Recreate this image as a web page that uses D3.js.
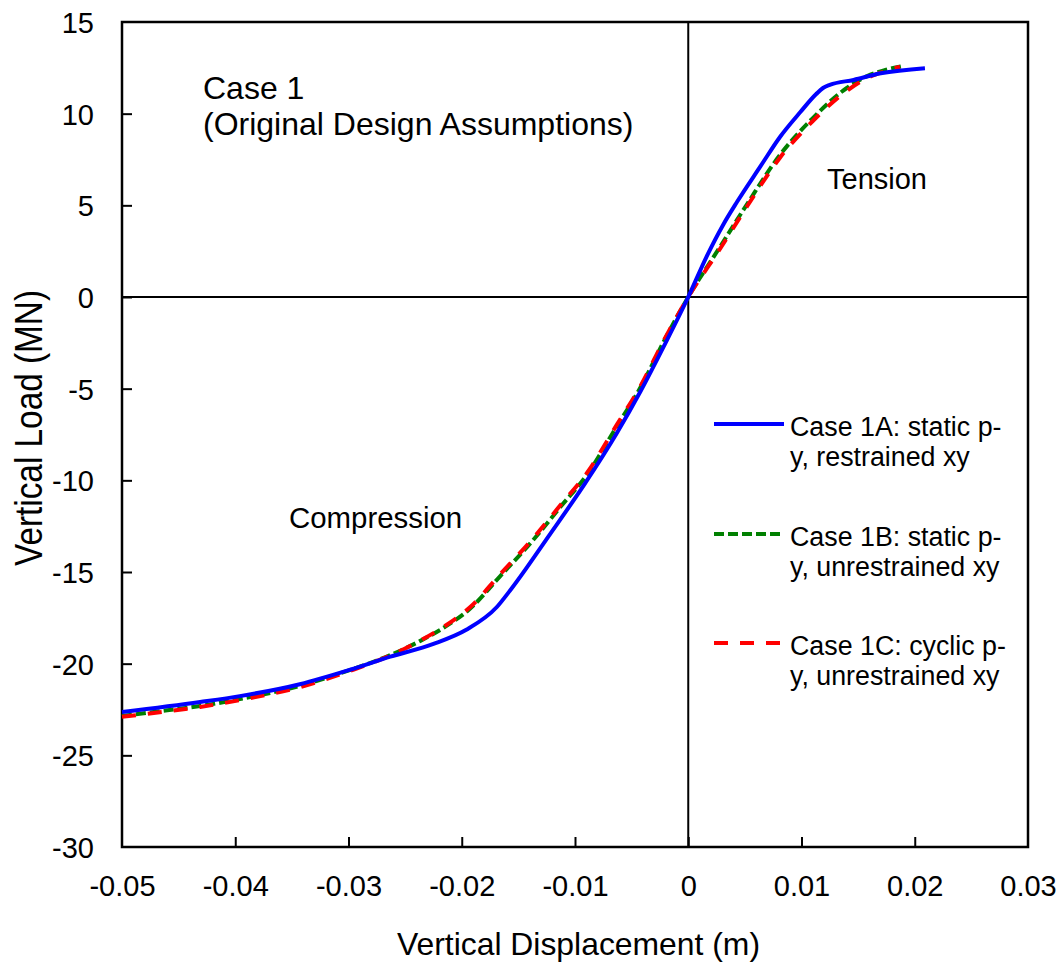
<!DOCTYPE html>
<html>
<head>
<meta charset="utf-8">
<script src="https://cdn.jsdelivr.net/npm/d3@7"></script>
<style>
  html, body { margin: 0; padding: 0; background: #fff; }
  svg text { font-family: "Liberation Sans", Arial, sans-serif; fill: #000; }
</style>
</head>
<body>
<svg id="chart" width="1061" height="963"></svg>
<script>
// ---- data ----
const xTicks = [-0.05, -0.04, -0.03, -0.02, -0.01, 0, 0.01, 0.02, 0.03];
const yTicks = [15, 10, 5, 0, -5, -10, -15, -20, -25, -30];

// Case 1A: static p-y, restrained xy
const dispA = [-0.0500, -0.0431, -0.0396, -0.0343, -0.0298, -0.0263, -0.0225, -0.0196, -0.0169, -0.0157, -0.0122, -0.0092, -0.0063, -0.0042, -0.0021, 0,
               0.0016, 0.0031, 0.0043, 0.0064, 0.0081, 0.0099, 0.0113, 0.0119, 0.0125, 0.0146, 0.0170, 0.0209];
const loadA = [-22.64, -22.09, -21.77, -21.12, -20.32, -19.62, -18.92, -18.15, -16.91, -15.98, -12.93, -10.25, -7.42, -5.13, -2.62, 0,
               2.18, 3.96, 5.18, 7.15, 8.73, 10.09, 11.07, 11.40, 11.57, 11.84, 12.20, 12.48];

// Case 1B: static p-y, unrestrained xy
const dispB = [-0.0500, -0.0460, -0.0431, -0.0387, -0.0343, -0.0299, -0.0263, -0.0237, -0.0215, -0.0193, -0.0166, -0.0137, -0.0113, -0.0089, -0.0063, -0.0042, -0.0021, 0,
               0.0028, 0.0052, 0.0081, 0.0110, 0.0140, 0.0158, 0.0174, 0.0190];
const loadB = [-22.85, -22.54, -22.31, -21.82, -21.22, -20.35, -19.53, -18.77, -18.00, -17.02, -15.22, -13.26, -11.46, -9.66, -7.04, -4.91, -2.35, 0,
               2.73, 5.07, 7.75, 9.76, 11.40, 12.05, 12.38, 12.60];

// Case 1C: cyclic p-y, unrestrained xy
const dispC = [-0.0500, -0.0460, -0.0431, -0.0387, -0.0343, -0.0299, -0.0263, -0.0237, -0.0215, -0.0193, -0.0166, -0.0137, -0.0113, -0.0089, -0.0063, -0.0042, -0.0021, 0,
               0.0028, 0.0052, 0.0081, 0.0110, 0.0140, 0.0158, 0.0174, 0.0187];
const loadC = [-22.90, -22.60, -22.36, -21.88, -21.28, -20.40, -19.55, -18.75, -17.95, -16.94, -15.12, -13.16, -11.36, -9.56, -6.96, -4.84, -2.30, 0,
               2.62, 4.95, 7.60, 9.60, 11.25, 11.95, 12.32, 12.56];

const seriesNames = ["Case 1A: static p-|y, restrained xy", "Case 1B: static p-|y, unrestrained xy", "Case 1C: cyclic p-|y, unrestrained xy"];

// ---- layout ----
const svg = d3.select("#chart");
const X0 = 122, X1 = 1028, Y0 = 22, Y1 = 847;
const x = d3.scaleLinear().domain([-0.05, 0.03]).range([X0, X1]);
const y = d3.scaleLinear().domain([-30, 15]).range([Y1, Y0]);

const fmtX = d => d === 0 ? "0" : d.toFixed(2);
const fmtY = d => String(d);

// axes
const gx = svg.append("g").attr("transform", `translate(0,${Y1})`)
  .call(d3.axisBottom(x).tickValues(xTicks).tickFormat(fmtX).tickSizeInner(-10).tickSizeOuter(0));
gx.select(".domain").remove();
gx.selectAll(".tick line").attr("stroke", "#000").attr("stroke-width", 2);
gx.selectAll(".tick text").attr("y", 49).attr("dy", 0).attr("font-size", 29).attr("fill", "#000")
  .attr("font-family", "Liberation Sans, Arial, sans-serif");

const gy = svg.append("g").attr("transform", `translate(${X0},0)`)
  .call(d3.axisLeft(y).tickValues(yTicks).tickFormat(fmtY).tickSizeInner(-10).tickSizeOuter(0));
gy.select(".domain").remove();
gy.selectAll(".tick line").attr("stroke", "#000").attr("stroke-width", 2);
gy.selectAll(".tick text").attr("x", -28).attr("dy", "0.36em").attr("font-size", 29).attr("fill", "#000")
  .attr("font-family", "Liberation Sans, Arial, sans-serif");
gx.selectAll(".tick").filter(d => d === -0.05 || d === 0.03).select("line").remove();
gy.selectAll(".tick").filter(d => d === 15 || d === -30).select("line").remove();

// zero lines
svg.append("line").attr("x1", x(0)).attr("x2", x(0)).attr("y1", Y0).attr("y2", Y1)
  .attr("stroke", "#000").attr("stroke-width", 2);
svg.append("line").attr("x1", X0).attr("x2", X1).attr("y1", y(0)).attr("y2", y(0))
  .attr("stroke", "#000").attr("stroke-width", 2);

// frame
svg.append("rect").attr("x", X0).attr("y", Y0).attr("width", X1 - X0).attr("height", Y1 - Y0)
  .attr("fill", "none").attr("stroke", "#000").attr("stroke-width", 2.5);

// series
const line = d3.line().x(d => x(d[0])).y(d => y(d[1])).curve(d3.curveMonotoneX);
const zip = (a, b) => a.map((v, i) => [v, b[i]]);
const series = [
  { pts: zip(dispB, loadB), color: "#008000", dash: "10,4" },
  { pts: zip(dispC, loadC), color: "#FF0000", dash: "14,12" },
  { pts: zip(dispA, loadA), color: "#0000FF", dash: null }
];
series.forEach(s => {
  const p = svg.append("path").datum(s.pts).attr("d", line)
    .attr("fill", "none").attr("stroke", s.color).attr("stroke-width", 4)
    .attr("stroke-linejoin", "round");
  if (s.dash) p.attr("stroke-dasharray", s.dash);
});

// annotations
svg.append("text").attr("x", 203).attr("y", 99).attr("font-size", 32).text("Case 1");
svg.append("text").attr("x", 203).attr("y", 135).attr("font-size", 32).text("(Original Design Assumptions)");
svg.append("text").attr("x", 827).attr("y", 189).attr("font-size", 29).text("Tension");
svg.append("text").attr("x", 289).attr("y", 528).attr("font-size", 29.4).text("Compression");

// legend
const legColors = ["#0000FF", "#008000", "#FF0000"];
const legDash = [null, "10,4", "14,12"];
const legY = [424, 534, 643];
seriesNames.forEach((name, i) => {
  const l = svg.append("line").attr("x1", 714).attr("x2", 784).attr("y1", legY[i]).attr("y2", legY[i])
    .attr("stroke", legColors[i]).attr("stroke-width", 4);
  if (legDash[i]) l.attr("stroke-dasharray", legDash[i]);
  const parts = name.split("|");
  svg.append("text").attr("x", 790).attr("y", legY[i] + 12).attr("font-size", 26.8).text(parts[0]);
  svg.append("text").attr("x", 790).attr("y", legY[i] + 42).attr("font-size", 26.8).text(parts[1]);
});

// axis titles
svg.append("text").attr("x", (397 + 760) / 2).attr("y", 955).attr("text-anchor", "middle")
  .attr("font-size", 32).attr("textLength", 363).attr("lengthAdjust", "spacingAndGlyphs")
  .text("Vertical Displacement (m)");
svg.append("text").attr("transform", "translate(42,428) rotate(-90)").attr("text-anchor", "middle")
  .attr("font-size", 39).attr("textLength", 276).attr("lengthAdjust", "spacingAndGlyphs")
  .text("Vertical Load (MN)");
</script>
</body>
</html>
